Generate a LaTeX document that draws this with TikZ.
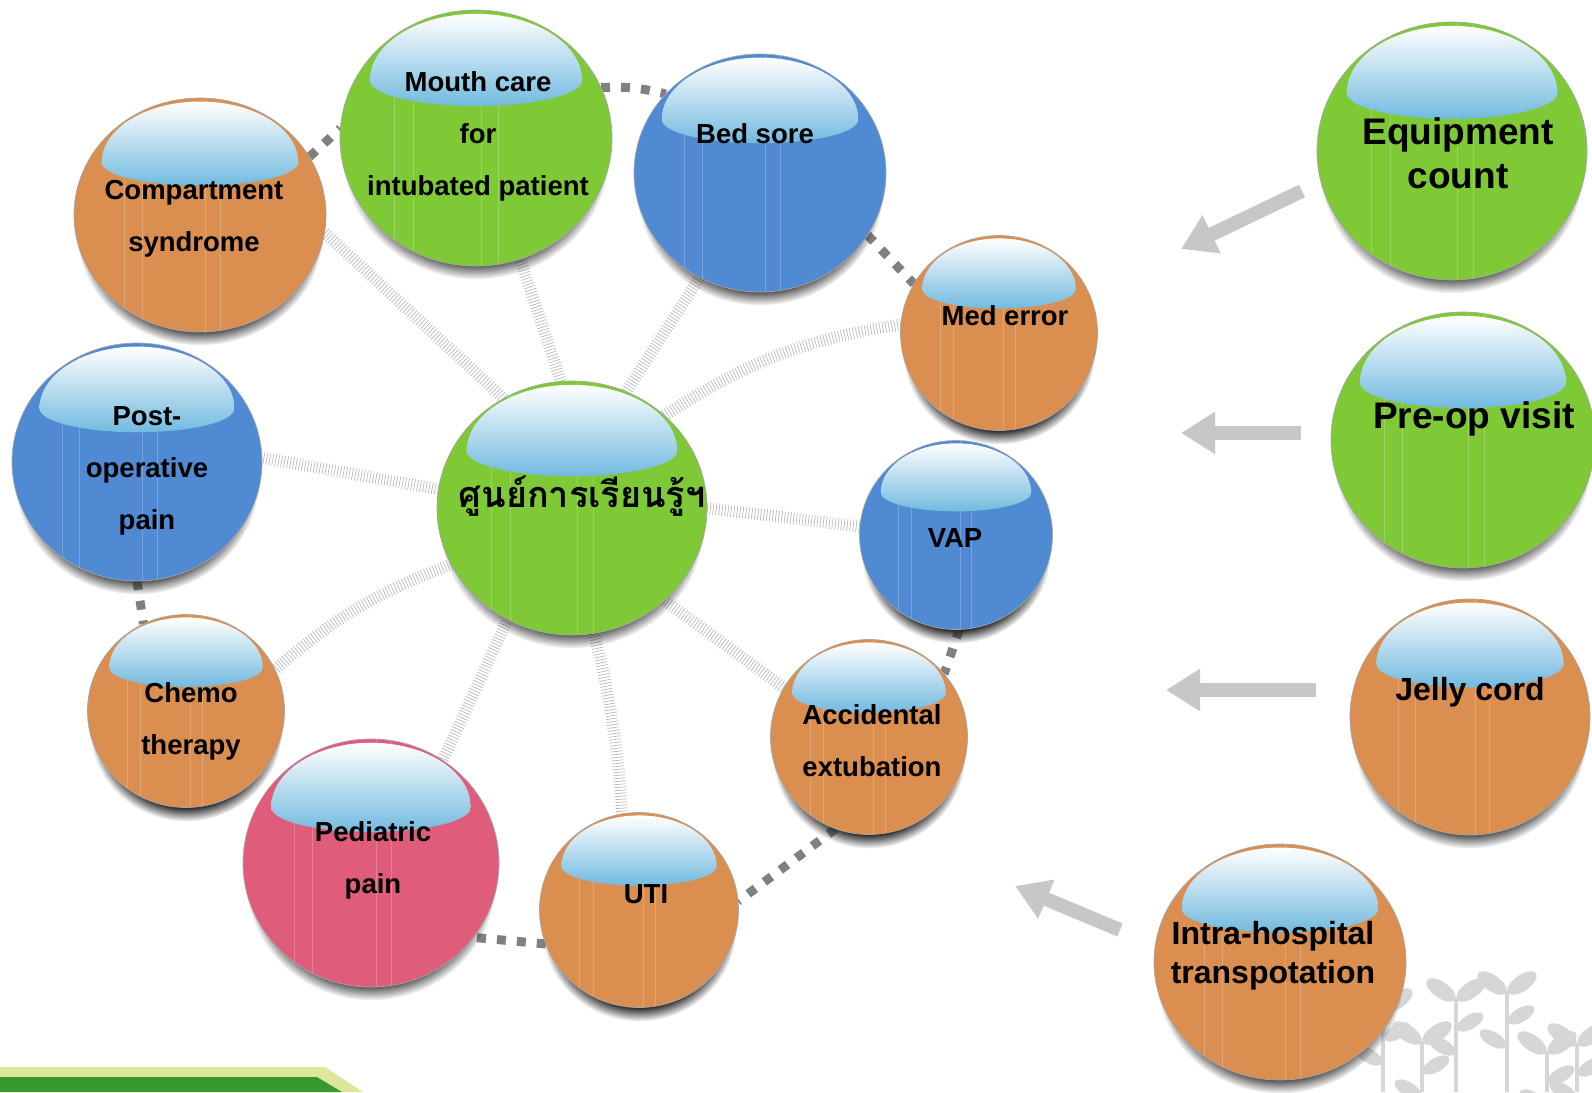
\documentclass[tikz,border=0pt]{standalone}
\usepackage{fontspec}
\setmainfont{Liberation Sans}
\newfontfamily\thaifont[Script=Thai]{Loma}
\usetikzlibrary{calc,shapes.geometric,shadows,fadings,backgrounds,arrows.meta}

\definecolor{ballgreen}{HTML}{7FC836}
\definecolor{ballorange}{HTML}{DA8E50}
\definecolor{ballblue}{HTML}{508AD2}
\definecolor{ballpink}{HTML}{E05C7B}
\definecolor{hiblue}{HTML}{72BADF}
\definecolor{barlight}{HTML}{DDE79B}
\definecolor{bardark}{HTML}{369A2E}
\definecolor{plantgray}{HTML}{D6D6D6}

\tikzset{
    hilite/.style={path picture={
        \foreach \f in {0.2,0.27,0.52,0.58}
            \draw[white, opacity=0.22, line width=0.5pt]
                ($(path picture bounding box.south west)!\f!(path picture bounding box.south east)$)
                -- ($(path picture bounding box.north west)!\f!(path picture bounding box.north east)$);
        \shade[top color=white, middle color=hiblue!45, bottom color=hiblue]
            let \p1=(path picture bounding box.north east),
                \p2=(path picture bounding box.south west),
                \n1={0.5*(\x1-\x2)}, \n2={0.5*(\y1-\y2)}
            in ([shift={(-0.78*\n1*1pt,0.45*\n2*1pt)}]path picture bounding box.center)
            arc[start angle=180, end angle=0, x radius=0.78*\n1*1pt, y radius=0.52*\n2*1pt]
            arc[start angle=0, end angle=-180, x radius=0.78*\n1*1pt, y radius=0.2*\n2*1pt]
            -- cycle;
    }},
    ball/.style={ellipse, inner sep=0pt, outer sep=0pt, draw=black!35, line width=0.7pt, hilite,
        circular drop shadow={shadow xshift=0pt, shadow yshift=-16pt, shadow scale=0.98,
            opacity=1, fill=black!85}},
    dims/.style 2 args={minimum width=#1, minimum height=#2},
    lbl/.style={font=\bfseries\fontsize{27.5}{52}\selectfont, align=center, inner sep=0pt},
    lblbig/.style={lbl, font=\bfseries\fontsize{37}{44}\selectfont},
    lblmid/.style={lbl, font=\bfseries\fontsize{32}{39}\selectfont},
    ring/.style={line width=9pt, draw=gray, dash pattern=on 9pt off 11pt},
    faint/.style={line width=12pt, draw=gray!55, dash pattern=on 0.7pt off 2.3pt},
    flow/.style={line width=14pt, draw=black!22, -{Triangle[length=34pt,width=40pt]}},
    stem/.style={line width=4pt, draw=plantgray},
    plant/.style={fill=plantgray}
}

\begin{document}
\begin{tikzpicture}[x=1pt,y=-1pt]
    \useasboundingbox (0,0) rectangle (1592,1092);

    % bottom strip and sprouts
    \fill[barlight] (0,1067) -- (325,1067) -- (363,1092) -- (0,1092) -- cycle;
    \fill[bardark] (0,1077) -- (317,1077) -- (342,1092) -- (0,1092) -- cycle;
    \foreach \px/\pt in {1383/1000, 1422/1033, 1456/990, 1507/983, 1547/1043, 1577/1035}{
        \draw[stem] (\px,1092) -- (\px,\pt+8);
        \fill[plant, rotate around={35:(\px+15,\pt)}] (\px+15,\pt) ellipse (17 and 8);
        \fill[plant, rotate around={-35:(\px-15,\pt)}] (\px-15,\pt) ellipse (17 and 8);
        \fill[plant, rotate around={30:(\px+14,\pt+32)}] (\px+14,\pt+32) ellipse (15 and 7);
        \fill[plant, rotate around={-30:(\px-14,\pt+56)}] (\px-14,\pt+56) ellipse (15 and 7);
    }

    % balls
    \node[ball, fill=ballgreen, dims={270}{254}] (hub) at (572,508) {};
    \node[ball, fill=ballorange, dims={252}{234}] (comp) at (200,215) {};
    \node[ball, fill=ballgreen, dims={272}{256}] (mouth) at (476,138) {};
    \node[ball, fill=ballblue, dims={252}{238}] (bed) at (760,173) {};
    \node[ball, fill=ballorange, dims={197}{195}] (med) at (999,333) {};
    \node[ball, fill=ballblue, dims={193}{189}] (vap) at (956,535) {};
    \node[ball, fill=ballorange, dims={197}{195}] (acc) at (869,737) {};
    \node[ball, fill=ballorange, dims={199}{195}] (uti) at (639,910) {};
    \node[ball, fill=ballpink, dims={256}{248}] (ped) at (371,863) {};
    \node[ball, fill=ballorange, dims={197}{193}] (chemo) at (186,711) {};
    \node[ball, fill=ballblue, dims={250}{238}] (postop) at (137,462) {};
    \node[ball, fill=ballgreen, dims={270}{258}] (equip) at (1452,151) {};
    \node[ball, fill=ballgreen, dims={264}{256}] (preop) at (1463,440) {};
    \node[ball, fill=ballorange, dims={240}{236}] (jelly) at (1470,717) {};
    \node[ball, fill=ballorange, dims={252}{236}] (intra) at (1280,962) {};

    % labels
    \node[lbl, font=\thaifont\bfseries\fontsize{36}{44}\selectfont] (hub-t) at (582,496) {ศูนย์การเรียนรู้ฯ};
    \node[lbl] (comp-t) at (194,219) {Compartment\\syndrome};
    \node[lbl] (mouth-t) at (478,136) {Mouth care\\for\\intubated patient};
    \node[lbl] (bed-t) at (755,134) {Bed sore};
    \node[lbl] (med-t) at (1005,316) {Med error};
    \node[lbl] (vap-t) at (955,538) {VAP};
    \node[lbl] (acc-t) at (872,741) {Accidental\\extubation};
    \node[lbl] (uti-t) at (646,894) {UTI};
    \node[lbl] (ped-t) at (373,860) {Pediatric\\pain};
    \node[lbl] (chemo-t) at (191,721) {Chemo\\therapy};
    \node[lbl] (postop-t) at (147,471) {Post-\\operative\\pain};
    \node[lblbig] (equip-t) at (1458,153) {Equipment\\count};
    \node[lblbig] (preop-t) at (1474,419) {Pre-op visit};
    \node[lblmid] (jelly-t) at (1470,692) {Jelly cord};
    \node[lblmid] (intra-t) at (1273,956) {Intra-hospital\\transpotation};

    % links behind the balls
    \begin{scope}[on background layer]
        \draw[faint] (hub.122) -- (comp.-8);
        \draw[faint] (hub.95) -- (mouth.-70);
        \draw[faint] (hub.65) -- (bed.-120);
        \draw[faint] (hub.45) to[bend left=12] (med.175);
        \draw[faint] (hub.0) -- (vap.175);
        \draw[faint] (hub.-45) -- (acc.150);
        \draw[faint] (hub.-80) to[bend left=5] (uti.100);
        \draw[faint] (hub.-120) -- (ped.55);
        \draw[faint] (hub.-155) to[bend right=10] (chemo.25);
        \draw[faint] (hub.172) -- (postop.2);

        \draw[ring] (comp.28) -- (mouth.176);
        \draw[ring] (mouth.22) to[bend left=8] (bed.140);
        \draw[ring] (bed.-30) -- (med.150);
        \draw[ring] (vap.-88) -- (acc.40);
        \draw[ring] (acc.-110) -- (uti.5);
        \draw[ring] (uti.-160) -- (ped.-36);
        \draw[ring] (postop.-90) -- (chemo.116);
    \end{scope}

    % arrows from the right column
    \coordinate (a1s) at (1302,191); \coordinate (a1e) at (1181,249);
    \coordinate (a2s) at (1301,433); \coordinate (a2e) at (1181,433);
    \coordinate (a3s) at (1316,690); \coordinate (a3e) at (1166,690);
    \coordinate (a4s) at (1120,930); \coordinate (a4e) at (1015,886);
    \draw[flow] (a1s) -- (a1e);
    \draw[flow] (a2s) -- (a2e);
    \draw[flow] (a3s) -- (a3e);
    \draw[flow] (a4s) -- (a4e);
\end{tikzpicture}
\end{document}
